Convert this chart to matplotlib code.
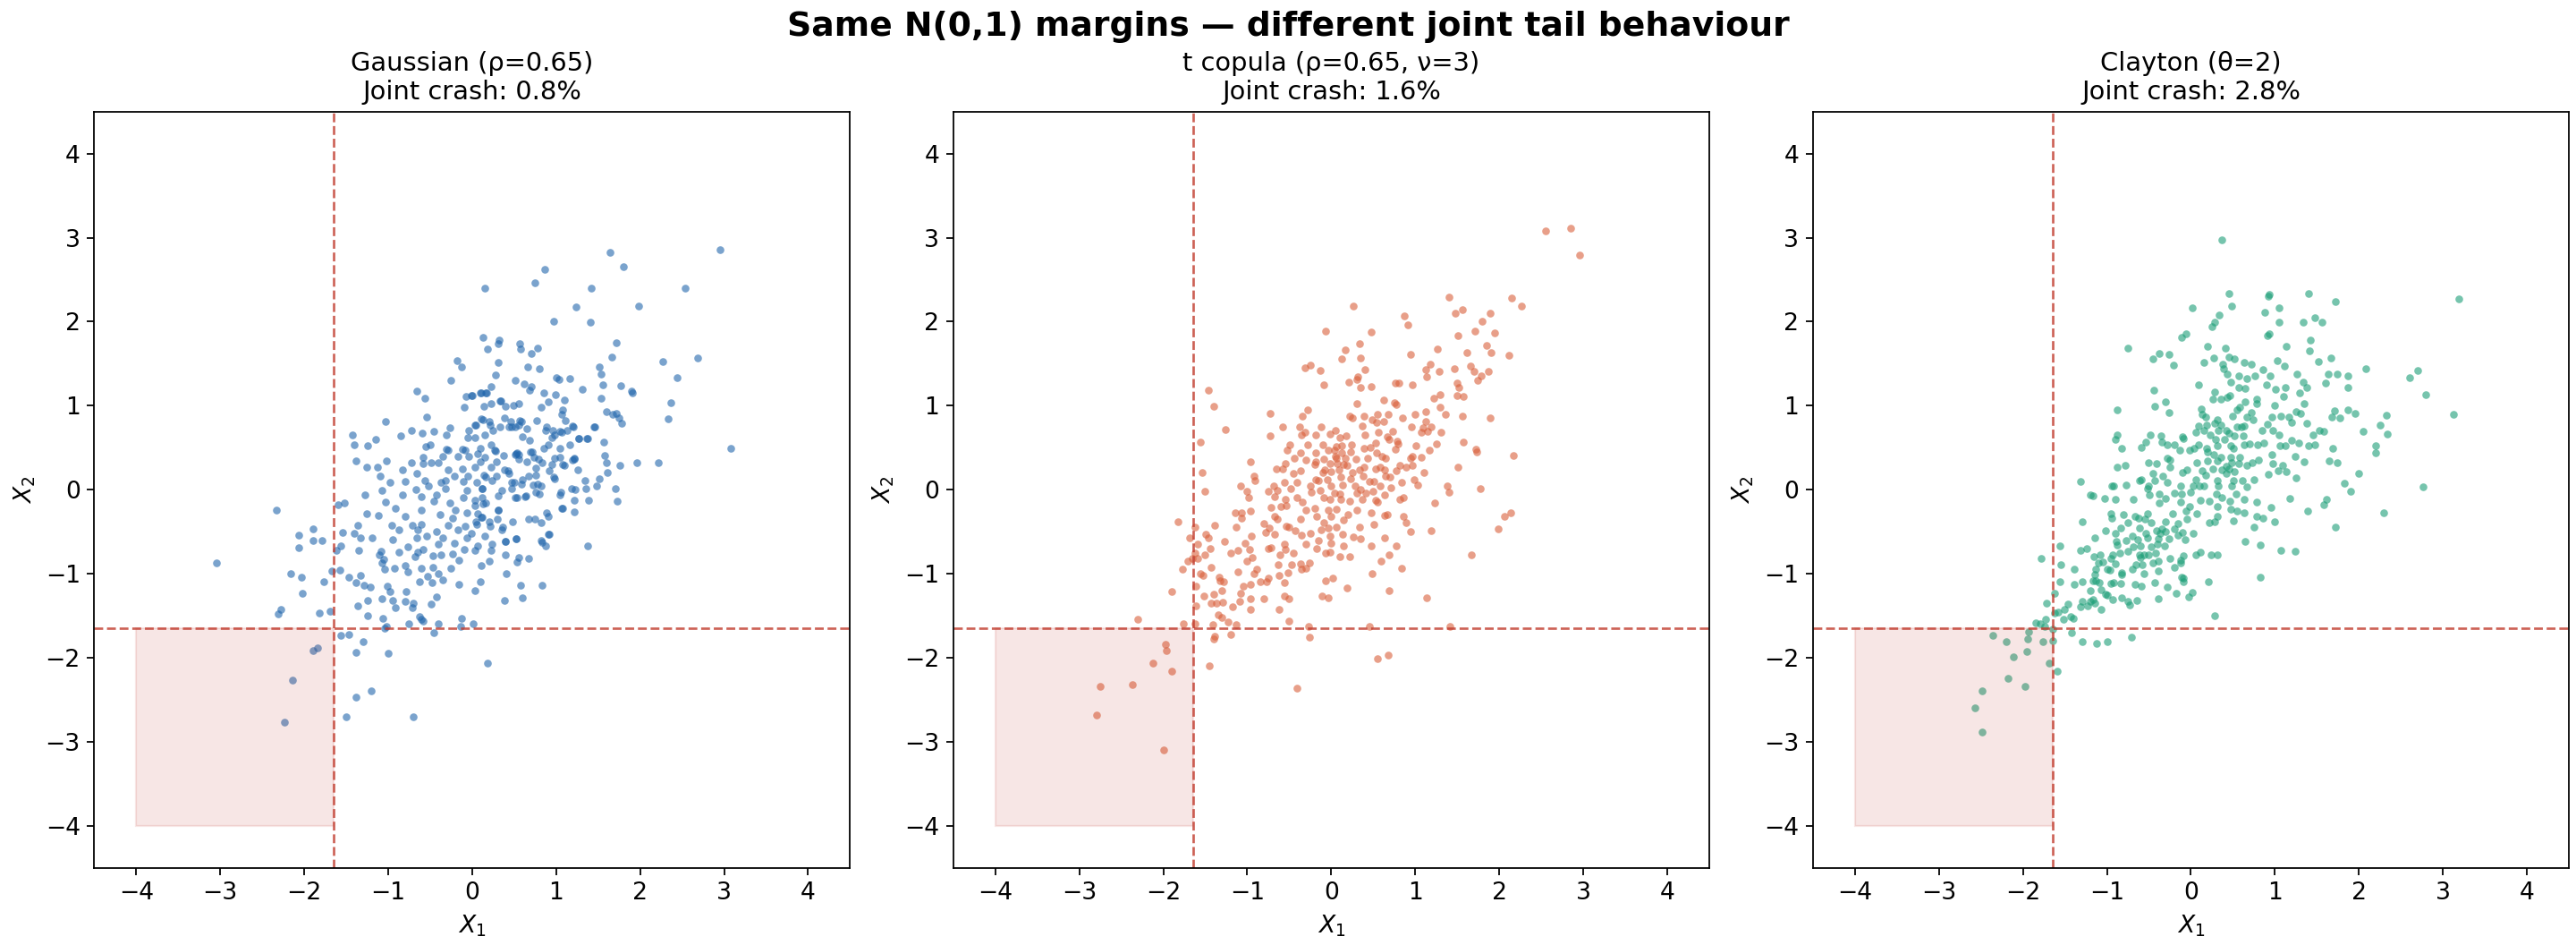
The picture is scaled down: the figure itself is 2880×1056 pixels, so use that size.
import numpy as np
import matplotlib
matplotlib.use("Agg")
import matplotlib.pyplot as plt
from matplotlib.patches import Rectangle

# (x1, x2) samples
gauss_pts = [
    (1.64, 2.83), (2.95, 2.86), (1.80, 2.65), (0.86, 2.62), (0.75, 2.46), (0.15, 2.40), (1.42, 2.40),
    (2.54, 2.40), (1.24, 2.18), (1.98, 2.19), (1.41, 1.99), (0.97, 2.01), (0.13, 1.81), (0.32, 1.78),
    (0.31, 1.74), (0.57, 1.74), (1.72, 1.75), (0.18, 1.67), (0.58, 1.67), (0.78, 1.69), (0.70, 1.62),
    (1.66, 1.58), (2.68, 1.57), (-0.18, 1.54), (0.31, 1.52), (2.27, 1.53), (-0.13, 1.46), (0.66, 1.46),
    (0.80, 1.44), (1.51, 1.46), (1.54, 1.38), (0.28, 1.37), (2.44, 1.33), (-0.25, 1.30), (0.51, 1.30),
    (1.00, 1.33), (1.16, 1.32), (1.03, 1.31), (0.62, 1.26), (0.70, 1.23), (1.56, 1.25), (1.77, 1.24),
    (0.22, 1.23), (1.31, 1.20), (0.68, 1.18), (0.85, 1.15), (1.90, 1.17), (1.91, 1.15), (-0.66, 1.17),
    (-0.56, 1.09), (0.16, 1.15), (0.11, 1.15), (-0.01, 1.12), (-0.07, 1.11), (0.33, 1.06), (1.10, 1.07),
    (1.54, 1.09), (2.37, 1.04), (0.91, 1.05), (0.99, 1.13), (0.55, 1.02), (0.49, 1.00), (0.40, 0.99),
    (0.22, 1.03), (-0.10, 0.98), (0.82, 0.98), (1.08, 0.95), (1.60, 0.93), (1.67, 0.90), (1.72, 0.91),
    (1.07, 0.90), (1.75, 0.85), (1.78, 0.79), (2.33, 0.84), (-0.54, 0.86), (0.11, 0.84), (0.20, 0.81),
    (0.57, 0.82), (0.46, 0.81), (0.77, 0.82), (1.11, 0.82), (-1.03, 0.81), (0.03, 0.77), (0.33, 0.75),
    (0.44, 0.75), (0.51, 0.75), (0.65, 0.73), (1.45, 0.75), (1.20, 0.75), (1.13, 0.71), (0.87, 0.70),
    (0.96, 0.70), (1.05, 0.69), (-0.72, 0.70), (-0.60, 0.67), (-0.46, 0.69), (-0.26, 0.74), (-0.04, 0.70),
    (0.25, 0.71), (-0.31, 0.65), (-0.85, 0.64), (-1.43, 0.65), (-1.15, 0.60), (-0.05, 0.62), (0.03, 0.62),
    (0.15, 0.65), (0.60, 0.63), (0.68, 0.59), (0.95, 0.62), (1.27, 0.61), (1.36, 0.61), (1.16, 0.54),
    (1.57, 0.57), (3.08, 0.49), (-1.40, 0.54), (-1.24, 0.52), (-0.55, 0.51), (-0.50, 0.53), (-0.31, 0.48),
    (-0.29, 0.47), (-0.12, 0.48), (-0.08, 0.47), (0.10, 0.49), (0.27, 0.47), (0.85, 0.49), (1.05, 0.49),
    (0.91, 0.53), (0.69, 0.45), (0.53, 0.44), (0.55, 0.42), (1.58, 0.41), (-0.59, 0.39), (-0.35, 0.40),
    (-0.17, 0.40), (-0.04, 0.40), (0.15, 0.39), (0.37, 0.41), (0.51, 0.42), (0.74, 0.39), (0.98, 0.38),
    (1.21, 0.37), (1.19, 0.35), (-1.38, 0.34), (-1.02, 0.34), (-0.72, 0.32), (-0.59, 0.31), (-0.49, 0.32),
    (-0.40, 0.32), (0.10, 0.33), (0.29, 0.33), (0.83, 0.32), (1.08, 0.30), (1.60, 0.32), (1.96, 0.32),
    (2.22, 0.32), (1.76, 0.29), (-1.26, 0.27), (-1.13, 0.27), (-0.83, 0.24), (-0.29, 0.24), (-0.12, 0.25),
    (0.03, 0.27), (0.22, 0.27), (0.43, 0.23), (0.38, 0.24), (0.92, 0.23), (1.26, 0.24), (-1.10, 0.16),
    (-0.66, 0.19), (-0.56, 0.11), (-0.21, 0.16), (-0.05, 0.16), (0.14, 0.17), (0.29, 0.16), (0.67, 0.16),
    (0.76, 0.17), (1.61, 0.20), (0.98, 0.13), (1.34, 0.11), (1.51, 0.13), (-0.98, 0.09), (-0.80, 0.10),
    (-0.37, 0.09), (-0.32, 0.11), (-0.11, 0.10), (0.05, 0.09), (0.24, 0.11), (0.50, 0.09), (0.59, 0.07),
    (0.78, 0.07), (0.82, 0.04), (1.48, 0.04), (-1.07, -0.01), (-0.67, 0.00), (-0.52, 0.04), (-0.32, 0.01),
    (-0.06, -0.01), (0.12, 0.01), (0.35, -0.01), (0.47, 0.01), (1.23, 0.00), (1.35, 0.01), (1.70, 0.01),
    (-1.28, -0.06), (-0.83, -0.06), (-0.61, -0.08), (-0.42, -0.06), (-0.11, -0.09), (0.12, -0.09),
    (0.31, -0.07), (0.53, -0.09), (0.64, -0.07), (0.80, -0.05), (1.05, -0.06), (-1.03, -0.15),
    (-0.46, -0.14), (-0.27, -0.16), (0.03, -0.19), (0.16, -0.16), (-1.60, -0.18), (-1.52, -0.16),
    (1.39, -0.13), (1.73, -0.14), (-2.33, -0.24), (1.08, -0.22), (1.22, -0.26), (-1.26, -0.29),
    (-0.91, -0.22), (-0.61, -0.24), (-0.20, -0.24), (-0.06, -0.27), (0.07, -0.28), (0.31, -0.24),
    (0.89, -0.27), (-1.12, -0.31), (-0.80, -0.32), (-0.38, -0.30), (-0.23, -0.34), (0.11, -0.33),
    (0.30, -0.35), (0.48, -0.38), (0.67, -0.35), (0.75, -0.35), (0.91, -0.32), (-1.36, -0.42),
    (-0.96, -0.42), (-0.71, -0.42), (-0.61, -0.41), (-0.29, -0.42), (-0.08, -0.43), (0.05, -0.41),
    (0.21, -0.43), (0.82, -0.39), (-1.89, -0.47), (-1.54, -0.51), (-1.41, -0.52), (-0.87, -0.48),
    (-0.65, -0.48), (-0.43, -0.50), (-0.17, -0.48), (-0.01, -0.52), (0.35, -0.48), (0.91, -0.53),
    (-2.07, -0.54), (-1.89, -0.60), (-1.79, -0.61), (-1.33, -0.57), (-1.19, -0.57), (-0.95, -0.59),
    (-0.66, -0.57), (-0.54, -0.55), (-0.35, -0.57), (-0.06, -0.57), (0.15, -0.55), (0.52, -0.58),
    (0.82, -0.60), (-2.06, -0.69), (-1.56, -0.67), (-1.35, -0.72), (-1.09, -0.73), (-0.77, -0.68),
    (-0.59, -0.71), (-0.40, -0.65), (-0.21, -0.64), (0.06, -0.67), (0.40, -0.62), (0.87, -0.67),
    (1.38, -0.67), (-1.62, -0.72), (-1.11, -0.77), (-0.87, -0.74), (-0.65, -0.74), (-0.37, -0.77),
    (-0.23, -0.76), (-0.10, -0.71), (0.03, -0.72), (0.22, -0.72), (0.39, -0.77), (-1.05, -0.83),
    (-0.68, -0.80), (-0.47, -0.79), (-0.16, -0.84), (0.20, -0.85), (0.53, -0.86), (0.56, -0.81),
    (0.67, -0.82), (-1.08, -0.87), (-0.93, -0.93), (-0.80, -0.90), (-0.61, -0.94), (-0.47, -0.92),
    (-0.25, -0.93), (0.11, -0.90), (-1.67, -0.97), (-1.57, -0.96), (-1.04, -0.95), (-0.77, -0.98),
    (-0.53, -1.03), (-0.40, -1.00), (0.41, -1.00), (-3.04, -0.87), (-2.16, -1.00), (-2.03, -1.04),
    (-1.47, -1.04), (-1.33, -1.02), (-0.63, -1.09), (-0.48, -1.11), (-0.35, -1.07), (0.10, -1.09),
    (0.58, -1.14), (0.83, -1.14), (-1.77, -1.10), (-1.38, -1.11), (-1.29, -1.14), (-1.21, -1.16),
    (-1.01, -1.15), (-0.79, -1.21), (-0.16, -1.13), (-2.02, -1.23), (-1.36, -1.38), (-1.24, -1.32),
    (-1.07, -1.30), (-0.98, -1.21), (-0.95, -1.32), (-0.80, -1.33), (-0.70, -1.35), (-0.49, -1.36),
    (-0.42, -1.28), (0.03, -1.20), (0.60, -1.29), (0.38, -1.32), (-0.92, -1.40), (-0.71, -1.40),
    (-1.82, -1.47), (-2.28, -1.43), (-2.31, -1.48), (-1.69, -1.45), (-1.25, -1.50), (-0.63, -1.51),
    (-0.61, -1.54), (-1.06, -1.53), (-0.58, -1.56), (-0.13, -1.53), (-0.76, -1.60), (-0.40, -1.60),
    (0.01, -1.60), (-1.02, -1.63), (-0.14, -1.63), (-1.04, -1.65), (-0.46, -1.70), (-1.56, -1.73),
    (-1.47, -1.72), (-1.30, -1.81), (-1.90, -1.91), (-1.84, -1.88), (-1.38, -1.94), (-1.00, -1.95),
    (0.18, -2.06), (-2.14, -2.27), (-1.20, -2.39), (-1.38, -2.47), (-2.24, -2.77), (-1.50, -2.70),
    (-0.70, -2.70),
    # dense core, overlapping dots
    (0.10, 1.15), (0.17, 1.15), (0.00, 1.12), (0.14, 0.99), (0.34, 1.06), (0.38, 0.85), (0.13, 0.83),
    (0.21, 0.77), (0.04, 0.77), (0.47, 0.75), (0.56, 0.77), (0.59, 0.81), (0.88, 0.75), (0.98, 0.65),
    (1.07, 0.68), (1.19, 0.76), (1.27, 0.61), (1.38, 0.61), (1.46, 0.75), (0.23, 0.53), (0.28, 0.46),
    (0.06, 0.43), (0.52, 0.43), (0.56, 0.36), (0.65, 0.33), (0.76, 0.26), (0.71, 0.45), (0.79, 0.36),
    (0.95, 0.30), (1.04, 0.39), (1.10, 0.29), (1.22, 0.36), (0.16, 0.15), (0.44, 0.19), (0.47, 0.09),
    (0.60, 0.12), (0.73, 0.06), (0.76, -0.03), (0.51, -0.09), (0.63, -0.08), (0.97, 0.15), (1.06, -0.03),
    (1.18, 0.01), (1.07, -0.22), (1.22, -0.13), (0.12, 0.01), (0.03, -0.13), (0.13, -0.17), (0.31, -0.24),
    (0.12, -0.33), (0.04, -0.38), (0.20, -0.38), (0.36, -0.45), (0.24, -0.65), (0.40, -0.62),
    (0.52, -0.58), (0.83, -0.63), (0.92, -0.53),
]

tcop_pts = [
    (2.85, 3.11), (2.55, 3.08), (2.96, 2.79), (1.40, 2.29), (0.26, 2.19), (2.15, 2.28), (2.26, 2.19),
    (1.48, 2.10), (1.56, 2.14), (0.87, 2.07), (0.91, 1.96), (1.89, 2.10), (1.80, 2.01), (-0.07, 1.89),
    (0.47, 1.88), (1.71, 1.89), (1.95, 1.87), (1.51, 1.83), (0.34, 1.74), (1.85, 1.72), (1.26, 1.67),
    (0.17, 1.66), (1.62, 1.63), (1.90, 1.63), (0.94, 1.61), (2.12, 1.60), (0.12, 1.56), (0.35, 1.57),
    (1.18, 1.49), (-0.25, 1.48), (-0.31, 1.45), (-0.13, 1.42), (0.40, 1.43), (1.12, 1.43), (1.28, 1.41),
    (1.47, 1.44), (1.66, 1.47), (1.70, 1.41), (1.87, 1.41), (1.79, 1.35), (1.74, 1.30), (1.14, 1.34),
    (0.30, 1.31), (0.32, 1.34), (0.21, 1.28), (0.47, 1.23), (0.35, 1.22), (-0.09, 1.25), (0.76, 1.27),
    (0.81, 1.27), (0.97, 1.25), (1.50, 1.27), (1.52, 1.22), (1.57, 1.11), (1.50, 1.12), (-1.46, 1.18),
    (1.22, 1.09), (1.30, 1.13), (0.62, 1.07), (0.75, 1.04), (0.77, 1.01), (-1.40, 0.99), (0.31, 1.02),
    (1.30, 0.98), (-0.28, 0.95), (1.12, 0.93), (-0.73, 0.91), (-0.35, 0.88), (0.22, 0.88), (0.39, 0.88),
    (0.55, 0.90), (0.68, 0.90), (0.85, 0.85), (1.00, 0.90), (1.56, 0.88), (1.36, 0.90), (1.89, 0.85),
    (0.49, 0.83), (0.62, 0.81), (0.54, 0.80), (1.13, 0.81), (1.19, 0.75), (1.15, 0.69), (1.09, 0.74),
    (-1.26, 0.72), (-0.58, 0.75), (-0.38, 0.75), (-0.12, 0.75), (0.37, 0.76), (1.07, 0.68), (1.31, 0.68),
    (-0.73, 0.64), (-0.36, 0.65), (-0.31, 0.68), (-0.18, 0.65), (-0.02, 0.66), (0.05, 0.71), (0.10, 0.62),
    (0.18, 0.64), (0.56, 0.68), (0.73, 0.69), (0.67, 0.63), (0.78, 0.58), (0.53, 0.56), (0.69, 0.60),
    (-1.56, 0.57), (1.57, 0.57), (-0.49, 0.54), (-0.28, 0.53), (-0.10, 0.54), (0.06, 0.51), (0.12, 0.52),
    (0.24, 0.54), (0.39, 0.49), (1.01, 0.52), (0.76, 0.48), (1.17, 0.47), (1.72, 0.48), (1.73, 0.45),
    (-0.53, 0.47), (-0.37, 0.44), (-0.18, 0.44), (-0.04, 0.47), (0.04, 0.47), (0.12, 0.44), (0.23, 0.45),
    (0.46, 0.50), (0.54, 0.44), (2.17, 0.41), (0.97, 0.40), (1.07, 0.39), (0.94, 0.37), (-0.44, 0.38),
    (-0.30, 0.35), (-0.09, 0.36), (0.06, 0.38), (0.17, 0.37), (0.29, 0.36), (0.43, 0.38), (0.65, 0.37),
    (-0.96, 0.33), (-0.55, 0.31), (-0.18, 0.33), (-0.02, 0.31), (0.07, 0.31), (0.19, 0.29), (0.34, 0.24),
    (0.39, 0.27), (0.53, 0.25), (0.58, 0.27), (0.63, 0.24), (0.82, 0.29), (0.89, 0.27), (0.97, 0.29),
    (1.51, 0.27), (-0.58, 0.25), (-0.37, 0.23), (-0.08, 0.24), (0.00, 0.22), (0.09, 0.24), (0.77, 0.23),
    (-1.54, 0.21), (-0.92, 0.16), (-0.91, 0.11), (-0.45, 0.19), (-0.19, 0.12), (-0.15, 0.11), (-0.05, 0.12),
    (0.11, 0.15), (0.23, 0.13), (0.38, 0.16), (0.51, 0.10), (0.65, 0.16), (0.84, 0.09), (0.99, 0.12),
    (1.03, 0.06), (1.38, 0.04), (-1.08, 0.05), (-0.69, 0.05), (-0.56, 0.09), (-0.41, 0.09), (0.00, 0.04),
    (0.13, 0.06), (0.28, 0.05), (0.58, 0.05), (0.71, 0.02), (1.77, 0.01), (-1.51, -0.02), (-1.01, -0.02),
    (-0.75, -0.02), (-0.64, -0.01), (-0.48, 0.01), (-0.24, -0.03), (-0.13, -0.01), (0.04, -0.04),
    (0.31, -0.04), (0.41, -0.04), (0.50, -0.02), (0.64, -0.06), (1.40, -0.03), (-0.98, -0.09),
    (-0.67, -0.08), (-0.55, -0.11), (-0.41, -0.09), (-0.09, -0.09), (-0.01, -0.12), (0.11, -0.12),
    (0.22, -0.14), (0.37, -0.11), (0.53, -0.13), (0.82, -0.11), (0.86, -0.09), (1.23, -0.16),
    (-1.14, -0.27), (-1.07, -0.27), (-0.96, -0.25), (-0.72, -0.21), (-0.54, -0.19), (-0.30, -0.24),
    (-0.20, -0.22), (-0.04, -0.24), (0.06, -0.23), (0.30, -0.24), (0.47, -0.27), (0.63, -0.31),
    (0.67, -0.30), (2.14, -0.27), (2.06, -0.32), (-1.83, -0.38), (-1.62, -0.44), (-1.07, -0.34),
    (-0.67, -0.32), (-0.64, -0.35), (-0.50, -0.45), (-0.37, -0.35), (-0.17, -0.32), (0.00, -0.32),
    (-0.09, -0.39), (0.15, -0.36), (0.86, -0.32), (0.89, -0.39), (1.99, -0.47), (-1.39, -0.42),
    (-1.13, -0.44), (-0.74, -0.46), (-0.54, -0.43), (-0.43, -0.49), (-0.25, -0.52), (-0.12, -0.48),
    (-0.04, -0.46), (0.06, -0.44), (0.34, -0.45), (0.51, -0.41), (0.94, -0.50), (1.19, -0.49),
    (-1.69, -0.57), (-1.50, -0.53), (-1.46, -0.57), (-0.78, -0.51), (-0.68, -0.53), (-0.36, -0.54),
    (-0.01, -0.55), (0.13, -0.53), (0.26, -0.56), (0.35, -0.58), (0.63, -0.57), (-1.59, -0.65),
    (-1.27, -0.62), (-1.03, -0.64), (-0.75, -0.70), (-0.72, -0.69), (-0.56, -0.65), (-0.55, -0.71),
    (-0.30, -0.65), (-0.17, -0.70), (0.00, -0.64), (0.15, -0.67), (0.47, -0.67), (0.77, -0.67),
    (-1.44, -0.70), (-0.97, -0.71), (-1.11, -0.72), (-1.62, -0.75), (-1.51, -0.77), (1.67, -0.77),
    (-1.65, -0.82), (-1.59, -0.82), (-1.71, -0.85), (-0.94, -0.81), (-0.61, -0.77), (-0.07, -0.75),
    (-0.02, -0.74), (0.10, -0.80), (0.22, -0.80), (0.69, -0.77), (0.59, -0.85), (-0.37, -0.88),
    (-0.63, -0.89), (-0.47, -0.89), (-0.26, -0.87), (-1.43, -0.92), (-1.77, -0.95), (-0.89, -0.95),
    (-0.36, -0.95), (-0.30, -0.93), (0.84, -0.93), (-1.56, -1.00), (-1.53, -1.02), (-1.11, -0.98),
    (-0.92, -1.00), (-0.62, -1.02), (-0.52, -0.99), (-1.34, -1.04), (-1.32, -1.08), (0.49, -1.00),
    (-0.07, -1.08), (0.02, -1.05), (-1.61, -1.15), (-1.28, -1.10), (-1.05, -1.15), (-0.96, -1.13),
    (-0.85, -1.10), (-0.77, -1.10), (-0.56, -1.11), (0.69, -1.20), (0.19, -1.17), (-1.90, -1.21),
    (-1.52, -1.27), (-1.40, -1.24), (-1.08, -1.23), (-0.80, -1.30), (-0.96, -1.30), (-0.56, -1.26),
    (-0.51, -1.30), (-0.11, -1.26), (-0.04, -1.29), (1.14, -1.29), (-1.43, -1.35), (-1.37, -1.35),
    (-1.29, -1.34), (-1.09, -1.33), (-1.61, -1.38), (-1.18, -1.39), (-0.96, -1.43), (-0.62, -1.43),
    (-1.35, -1.49), (-1.30, -1.52), (-2.30, -1.54), (-0.50, -1.56), (-1.23, -1.57), (-1.13, -1.61),
    (-1.76, -1.59), (-1.62, -1.60), (-1.41, -1.61), (-0.27, -1.63), (0.45, -1.63), (1.41, -1.63),
    (-1.20, -1.72), (-1.39, -1.74), (-1.40, -1.78), (-0.26, -1.75), (-1.97, -1.84), (-1.96, -1.91),
    (-2.12, -2.06), (-1.90, -2.16), (-1.45, -2.10), (0.55, -2.01), (0.68, -1.97), (-2.37, -2.32),
    (-2.75, -2.34), (-2.79, -2.68), (-0.41, -2.36), (-2.00, -3.10),
    # dense core, overlapping dots
    (0.05, 0.40), (0.15, 0.30), (-0.10, 0.20), (0.25, 0.20), (0.45, 0.10), (0.35, 0.00), (-0.25, 0.05),
    (0.10, -0.05), (-0.35, -0.15), (0.20, -0.30), (-0.60, -0.20), (-0.80, -0.40), (-0.95, -0.55),
    (-1.20, -0.75), (0.60, 0.40), (0.80, 0.55), (0.95, 0.75), (0.70, 0.15), (-0.15, -0.60), (-0.45, -0.75),
    (0.40, 0.65), (0.25, 0.85), (-0.20, 0.30), (0.55, -0.15), (1.10, 0.20), (1.25, 0.55), (-0.65, 0.25),
    (-1.00, -0.85), (-1.30, -1.20), (-0.75, -1.05),
]

clay_pts = [
    (0.37, 2.97), (0.45, 2.34), (1.40, 2.34), (0.93, 2.32), (0.92, 2.30), (1.72, 2.24), (3.19, 2.27),
    (0.49, 2.19), (0.02, 2.16), (1.05, 2.16), (0.88, 2.11), (0.34, 2.08), (1.48, 2.05), (1.56, 1.99),
    (1.34, 1.99), (0.28, 1.99), (0.25, 1.94), (1.05, 1.99), (-0.06, 1.86), (-0.11, 1.81), (0.93, 1.86),
    (0.91, 1.83), (1.42, 1.78), (-0.75, 1.68), (0.20, 1.71), (0.41, 1.69), (1.13, 1.71), (-0.38, 1.62),
    (-0.26, 1.61), (1.41, 1.65), (-0.45, 1.56), (0.27, 1.57), (0.45, 1.58), (0.52, 1.56), (1.67, 1.57),
    (1.52, 1.53), (-0.21, 1.48), (0.16, 1.52), (0.38, 1.49), (0.63, 1.51), (0.72, 1.49), (1.03, 1.54),
    (1.11, 1.47), (2.08, 1.44), (0.86, 1.43), (2.70, 1.42), (0.39, 1.44), (2.60, 1.33), (0.43, 1.38),
    (1.26, 1.38), (1.64, 1.38), (1.74, 1.38), (1.87, 1.36), (0.57, 1.36), (0.67, 1.32), (0.76, 1.35),
    (0.94, 1.36), (0.47, 1.28), (1.34, 1.28), (1.60, 1.27), (1.87, 1.22), (0.09, 1.25), (0.57, 1.22),
    (0.64, 1.21), (1.01, 1.20), (1.12, 1.22), (1.38, 1.22), (-0.44, 1.18), (0.28, 1.16), (0.43, 1.10),
    (0.46, 1.12), (1.10, 1.11), (2.80, 1.13), (0.26, 1.08), (0.36, 1.08), (0.78, 1.08), (-0.30, 1.05),
    (0.78, 1.03), (1.35, 1.03), (-0.43, 0.99), (0.58, 0.98), (-0.88, 0.95), (0.12, 0.96), (1.71, 0.94),
    (1.87, 0.95), (1.95, 0.91), (-0.26, 0.92), (0.72, 0.92), (1.25, 0.93), (1.31, 0.91), (3.13, 0.90),
    (2.33, 0.89), (0.13, 0.90), (0.18, 0.87), (0.50, 0.88), (0.67, 0.87), (0.96, 0.87), (1.07, 0.88),
    (1.17, 0.87), (1.77, 0.85), (1.68, 0.87), (0.32, 0.83), (0.74, 0.83), (0.91, 0.78), (1.38, 0.79),
    (0.09, 0.76), (0.19, 0.77), (0.28, 0.79), (0.36, 0.77), (0.60, 0.75), (0.63, 0.76), (2.25, 0.77),
    (0.97, 0.70), (1.53, 0.71), (1.58, 0.69), (2.05, 0.69), (-0.90, 0.60), (-0.88, 0.65), (-0.48, 0.65),
    (-0.36, 0.64), (-0.10, 0.63), (-0.09, 0.61), (0.06, 0.68), (0.23, 0.65), (0.33, 0.70), (0.42, 0.71),
    (0.45, 0.67), (0.52, 0.64), (0.62, 0.64), (1.05, 0.65), (1.45, 0.65), (2.34, 0.66), (-0.54, 0.57),
    (-0.35, 0.57), (-0.28, 0.53), (-0.20, 0.54), (0.29, 0.60), (1.20, 0.59), (1.40, 0.52), (1.48, 0.54),
    (1.28, 0.56), (0.87, 0.56), (2.20, 0.52), (1.69, 0.49), (-0.82, 0.49), (-0.59, 0.50), (-0.13, 0.47),
    (-0.02, 0.47), (0.04, 0.49), (0.09, 0.53), (0.19, 0.49), (0.32, 0.52), (0.47, 0.52), (0.51, 0.49),
    (0.63, 0.54), (0.79, 0.54), (1.06, 0.52), (1.12, 0.52), (2.20, 0.44), (-0.28, 0.38), (0.27, 0.42),
    (0.36, 0.39), (0.47, 0.39), (0.58, 0.39), (0.96, 0.42), (1.24, 0.40), (1.65, 0.34), (1.74, 0.32),
    (-0.88, 0.27), (-0.78, 0.29), (-0.51, 0.32), (-0.41, 0.31), (-0.25, 0.27), (0.07, 0.32), (0.20, 0.34),
    (0.31, 0.34), (0.42, 0.28), (0.49, 0.32), (0.57, 0.31), (0.67, 0.29), (0.73, 0.32), (0.98, 0.31),
    (1.09, 0.29), (1.35, 0.33), (-0.05, 0.24), (0.13, 0.23), (0.26, 0.25), (0.37, 0.24), (0.52, 0.22),
    (1.04, 0.23), (1.14, 0.22), (2.00, 0.19), (-0.45, 0.19), (-0.33, 0.16), (0.18, 0.17), (0.42, 0.19),
    (0.92, 0.18), (1.25, 0.14), (-0.59, 0.12), (-0.61, 0.11), (-0.43, 0.11), (-0.28, 0.09), (0.06, 0.12),
    (0.31, 0.11), (0.51, 0.11), (0.61, 0.11), (0.75, 0.12), (1.83, 0.08), (-1.31, 0.10), (-0.94, 0.05),
    (-0.92, 0.04), (-0.77, 0.06), (-0.12, 0.04), (0.03, 0.05), (0.15, 0.04), (0.33, 0.04), (0.49, 0.04),
    (0.67, 0.03), (2.76, 0.03), (1.90, -0.02), (-1.20, -0.06), (-1.17, -0.07), (-1.03, -0.10),
    (-0.90, -0.11), (-0.69, -0.11), (-0.52, 0.01), (-0.49, -0.06), (-0.38, -0.05), (-0.20, -0.04),
    (-0.11, -0.05), (0.00, -0.03), (0.11, -0.13), (0.22, -0.14), (0.37, -0.09), (0.54, -0.05),
    (0.63, -0.12), (0.78, -0.15), (1.18, -0.10), (1.61, -0.11), (-0.38, -0.16), (-0.12, -0.15),
    (-0.02, -0.20), (0.46, -0.14), (0.32, -0.20), (0.95, -0.21), (1.58, -0.18), (1.39, -0.25),
    (2.30, -0.27), (-0.95, -0.29), (-0.94, -0.34), (-0.67, -0.32), (-0.62, -0.34), (-0.52, -0.28),
    (-0.22, -0.28), (-0.06, -0.25), (0.07, -0.29), (0.32, -0.32), (0.47, -0.23), (0.55, -0.25),
    (0.63, -0.27), (0.78, -0.32), (0.86, -0.34), (1.00, -0.38), (-1.29, -0.38), (-0.75, -0.39),
    (-0.47, -0.39), (-0.30, -0.38), (-0.15, -0.40), (0.28, -0.38), (0.51, -0.37), (0.75, -0.44),
    (1.72, -0.44), (-1.02, -0.49), (-0.84, -0.46), (-0.61, -0.46), (-0.41, -0.49), (-0.35, -0.47),
    (-0.20, -0.47), (-0.10, -0.51), (0.22, -0.39), (-0.90, -0.52), (-0.54, -0.52), (-0.37, -0.52),
    (-0.30, -0.50), (-0.15, -0.54), (0.03, -0.52), (-1.14, -0.57), (-0.77, -0.60), (-0.63, -0.59),
    (-0.52, -0.57), (-0.39, -0.58), (-0.26, -0.58), (-0.07, -0.59), (0.65, -0.62), (-0.89, -0.62),
    (0.83, -0.66), (-1.56, -0.67), (-0.88, -0.66), (-0.69, -0.68), (-0.60, -0.67), (-0.47, -0.68),
    (-0.31, -0.67), (-1.31, -0.72), (-1.24, -0.70), (-0.75, -0.73), (-0.42, -0.75), (1.07, -0.72),
    (1.24, -0.73), (0.06, -0.77), (0.11, -0.74), (0.31, -0.77), (0.24, -0.78), (-1.16, -0.80),
    (-1.08, -0.78), (-0.93, -0.78), (-0.61, -0.77), (-0.56, -0.78), (-0.50, -0.77), (-0.09, -0.79),
    (-0.95, -0.82), (-1.78, -0.82), (-0.60, -0.81), (-0.39, -0.85), (-0.45, -0.87), (-0.25, -0.82),
    (-0.12, -0.84), (-1.10, -0.87), (-1.05, -0.86), (-0.90, -0.88), (-0.65, -0.89), (-0.58, -0.89),
    (-1.55, -0.89), (-1.39, -0.95), (-1.13, -0.95), (-0.96, -0.96), (-0.82, -0.99), (-0.20, -0.92),
    (-0.12, -0.87), (-1.14, -1.01), (-0.83, -1.01), (-0.56, -1.00), (-0.39, -0.97), (0.83, -1.04),
    (-0.11, -1.04), (-1.13, -1.08), (-1.17, -1.08), (-1.09, -1.11), (-0.95, -1.12), (-0.92, -1.11),
    (-0.84, -1.12), (-0.66, -1.13), (-0.43, -1.11), (-0.09, -1.10), (-0.09, -1.05), (0.21, -1.10),
    (-1.29, -1.10), (-1.56, -1.10), (-1.39, -1.13), (-1.07, -1.19), (-0.28, -1.16), (-0.59, -1.15),
    (-1.62, -1.23), (-1.02, -1.24), (-0.83, -1.29), (-0.93, -1.31), (-0.75, -1.33), (-0.64, -1.32),
    (-0.39, -1.30), (-0.17, -1.23), (0.02, -1.22), (-0.03, -1.28), (-1.72, -1.35), (-1.29, -1.33),
    (-1.20, -1.33), (-1.17, -1.31), (-1.14, -1.35), (-0.73, -1.37), (-1.46, -1.36), (-1.07, -1.43),
    (-1.23, -1.38), (-1.31, -1.39), (-1.51, -1.43), (-1.62, -1.47), (-1.58, -1.46), (-1.40, -1.53),
    (-1.43, -1.51), (0.28, -1.50), (-1.73, -1.54), (-1.52, -1.54), (-1.85, -1.58), (-1.79, -1.60),
    (-1.74, -1.63), (-1.65, -1.66), (-1.42, -1.70), (-1.93, -1.69), (-2.36, -1.73), (-0.71, -1.76),
    (-2.20, -1.81), (-1.94, -1.78), (-1.76, -1.81), (-1.64, -1.80), (-1.29, -1.81), (-1.12, -1.83),
    (-0.99, -1.81), (-2.11, -1.99), (-1.95, -1.93), (-1.69, -2.06), (-1.59, -2.16), (-2.18, -2.25),
    (-1.97, -2.34), (-2.49, -2.39), (-2.57, -2.60), (-2.49, -2.88),
    # dense core, overlapping dots
    (0.20, 0.45), (0.40, 0.60), (0.55, 0.75), (0.70, 0.55), (-0.10, 0.20), (-0.30, -0.10), (-0.55, -0.35),
    (-0.70, -0.55), (-0.85, -0.75), (-1.00, -0.95), (-1.20, -1.20), (0.10, 0.05), (0.30, -0.05),
    (0.85, 0.70), (1.00, 1.00), (0.65, 1.05), (-0.05, -0.35), (-0.40, -0.65), (0.45, 0.25), (1.20, 0.80),
    (-0.70, -0.95), (-1.00, -1.25), (0.15, 0.70), (0.80, 0.35), (-0.25, 0.35), (0.55, 0.95), (-0.50, 0.05),
    (-0.80, -0.30), (1.30, 1.15), (0.90, 1.25),
]

titles = ["Gaussian (ρ=0.65)\nJoint crash: 0.8%",
          "t copula (ρ=0.65, ν=3)\nJoint crash: 1.6%",
          "Clayton (θ=2)\nJoint crash: 2.8%"]
colors = ["#2166ac", "#d9603b", "#1b9e77"]
var_q = -1.645
ticks = [-4, -3, -2, -1, 0, 1, 2, 3, 4]

fig = plt.figure(figsize=(18, 6.6), dpi=160)
lefts = [0.0366, 0.3701, 0.7038]
for i, pts in enumerate([gauss_pts, tcop_pts, clay_pts]):
    ax = fig.add_axes([lefts[i], 0.0817, 0.2934, 0.8002])
    arr = np.array(pts)
    ax.scatter(arr[:, 0], arr[:, 1], s=15, color=colors[i], alpha=0.6, linewidths=0)
    ax.add_patch(Rectangle((-4, -4), var_q + 4, var_q + 4, color="#c0392b", alpha=0.12))
    ax.axvline(var_q, color="#c0392b", ls="--", lw=1.2, alpha=0.8)
    ax.axhline(var_q, color="#c0392b", ls="--", lw=1.2, alpha=0.8)
    ax.set_xlim(-4.5, 4.5)
    ax.set_ylim(-4.5, 4.5)
    ax.set_xticks(ticks)
    ax.set_yticks(ticks)
    ax.tick_params(labelsize=12)
    ax.set_xlabel("$X_1$", fontsize=12)
    ax.set_ylabel("$X_2$", fontsize=12)
    ax.set_title(titles[i], fontsize=13)

fig.text(0.5, 1 - 40 / 1056, "Same N(0,1) margins — different joint tail behaviour",
         ha="center", va="baseline", fontsize=17, fontweight="bold")
fig.savefig("out.png", dpi=160)
